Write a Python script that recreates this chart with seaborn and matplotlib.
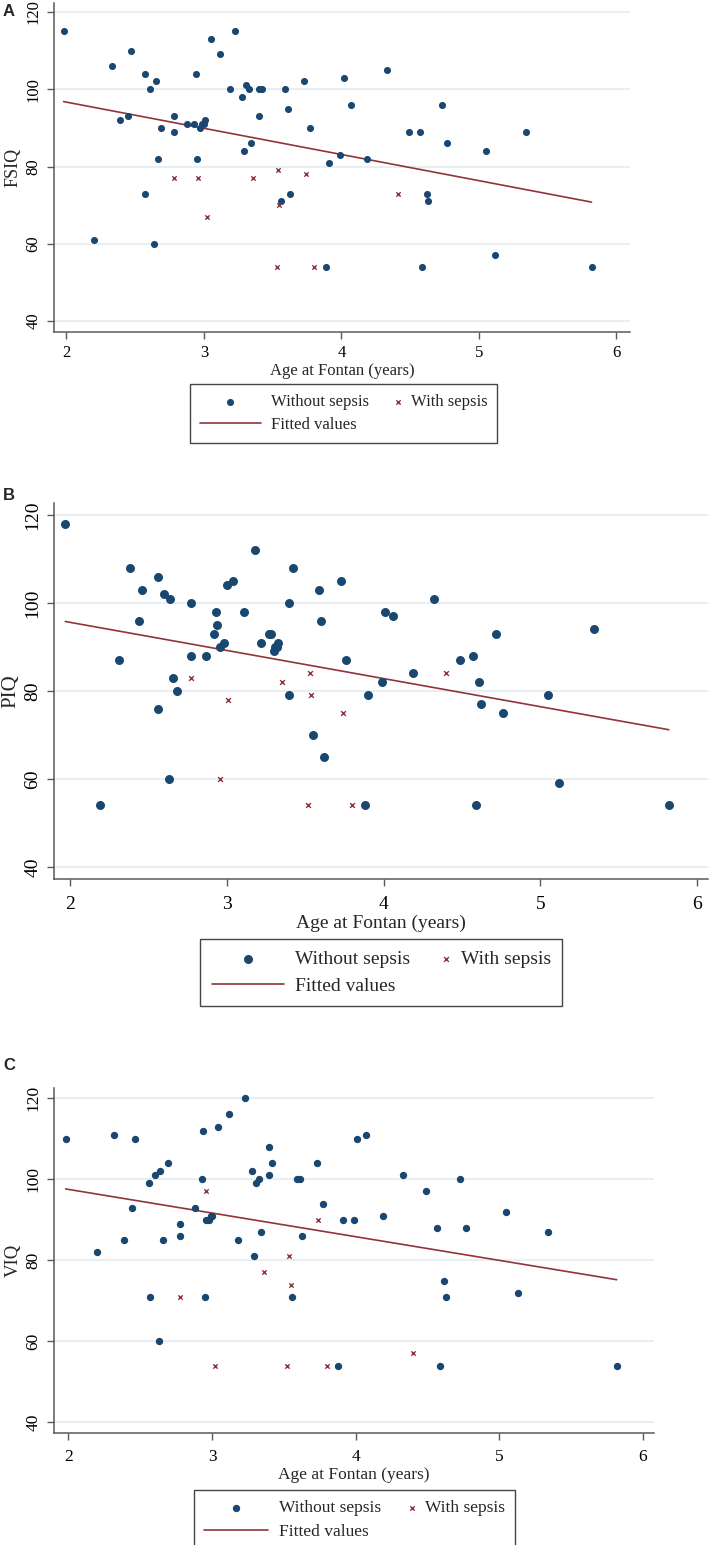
import matplotlib
matplotlib.use("Agg")
import matplotlib.pyplot as plt
from matplotlib.legend_handler import HandlerPathCollection
import seaborn as sns

# ---- Panel A: FSIQ ----
fsiq_age_no = [1.98, 2.20, 2.33, 2.47, 2.39, 2.45, 2.57, 2.61, 2.65, 2.57,
               2.64, 2.67, 2.69, 2.78, 2.78, 2.88, 2.93, 2.94, 2.95, 2.97,
               2.99, 3.00, 3.01, 3.05, 3.12, 3.19, 3.23, 3.28, 3.29, 3.31,
               3.33, 3.34, 3.40, 3.42, 3.40, 3.56, 3.59, 3.61, 3.63, 3.73,
               3.77, 3.89, 3.91, 3.99, 4.02, 4.07, 4.33, 4.19, 4.49, 4.57,
               4.73, 4.77, 5.05, 5.34, 4.62, 4.63, 4.59, 5.12, 5.82]
fsiq_no = [115, 61, 106, 110, 92, 93, 104, 100, 102, 73,
           60, 82, 90, 93, 89, 91, 91, 104, 82, 90,
           91, 91, 92, 113, 109, 100, 115, 98, 84, 101,
           100, 86, 100, 100, 93, 71, 100, 95, 73, 102,
           90, 54, 81, 83, 103, 96, 105, 82, 89, 89,
           96, 86, 84, 89, 73, 71, 54, 57, 54]
fsiq_age_sep = [2.78, 2.96, 3.02, 3.36, 3.54, 3.74, 3.55, 3.53, 3.80, 4.41]
fsiq_sep = [77, 77, 67, 77, 79, 78, 70, 54, 54, 73]
fsiq_fit_age = [1.98, 5.82]
fsiq_fit = [96.8, 70.8]

# ---- Panel B: PIQ ----
piq_age_no = [1.97, 2.19, 2.31, 2.38, 2.44, 2.46, 2.56, 2.56, 2.60, 2.63,
              2.64, 2.66, 2.68, 2.77, 2.77, 2.87, 2.92, 2.93, 2.94, 2.96,
              2.98, 3.00, 3.04, 3.11, 3.18, 3.22, 3.27, 3.28, 3.30, 3.31,
              3.32, 3.33, 3.40, 3.40, 3.42, 3.55, 3.59, 3.60, 3.62, 3.73,
              3.76, 3.88, 3.90, 3.99, 4.01, 4.06, 4.19, 4.32, 4.49, 4.57,
              4.59, 4.61, 4.62, 4.72, 4.76, 5.05, 5.12, 5.34, 5.82]
piq_no = [118, 54, 87, 108, 96, 103, 106, 76, 102, 60,
          101, 83, 80, 100, 88, 88, 93, 98, 95, 90,
          91, 104, 105, 98, 112, 91, 93, 93, 89, 90,
          90, 91, 100, 79, 108, 70, 103, 96, 65, 105,
          87, 54, 79, 82, 98, 97, 84, 101, 87, 88,
          54, 82, 77, 93, 75, 79, 59, 94, 54]
piq_age_sep = [2.77, 2.96, 3.01, 3.35, 3.53, 3.54, 3.52, 3.74, 3.80, 4.40]
piq_sep = [83, 60, 78, 82, 84, 79, 54, 75, 54, 84]
piq_fit_age = [1.97, 5.82]
piq_fit = [95.8, 71.2]

# ---- Panel C: VIQ ----
viq_age_no = [1.98, 2.20, 2.32, 2.39, 2.44, 2.46, 2.56, 2.57, 2.60, 2.64,
              2.66, 2.69, 2.78, 2.78, 2.88, 2.93, 2.94, 2.95, 2.96, 2.98,
              2.99, 3.00, 3.04, 3.12, 3.18, 3.23, 3.28, 3.29, 3.31, 3.33,
              3.34, 3.40, 3.40, 3.42, 3.56, 3.59, 3.61, 3.63, 3.73, 3.77,
              3.91, 3.99, 4.01, 4.07, 4.19, 4.33, 4.49, 4.57, 4.62, 4.63,
              4.73, 4.77, 5.05, 5.13, 5.34, 2.63, 3.88, 4.59, 5.82]
viq_no = [110, 82, 111, 85, 93, 110, 99, 71, 101, 102,
          85, 104, 89, 86, 93, 100, 112, 71, 90, 90,
          91, 91, 113, 116, 85, 120, 102, 81, 99, 100,
          87, 108, 101, 104, 71, 100, 100, 86, 104, 94,
          90, 90, 110, 111, 91, 101, 97, 88, 75, 71,
          100, 88, 92, 72, 87, 60, 54, 54, 54]
viq_age_sep = [2.96, 2.78, 3.36, 3.54, 3.55, 3.74, 3.02, 3.52, 3.80, 4.40]
viq_sep = [97, 71, 77, 81, 74, 90, 54, 54, 54, 57]
viq_fit_age = [1.98, 5.82]
viq_fit = [97.6, 75.2]

y_ticks = [40, 60, 80, 100, 120]
x_ticks = [2, 3, 4, 5, 6]

NAVY = "#1a476f"
MAROON = "#90353b"
GRID = "#e6eef1"
AXIS = "#5a5a5a"

sns.set_theme(style="white")
plt.rcParams['font.family'] = ['Liberation Serif', 'DejaVu Serif']

W, H = 709, 1545
fig = plt.figure(figsize=(W / 100, H / 100), dpi=100)


def px_rect(left, top, right, bottom):
    return [left / W, 1 - bottom / H, (right - left) / W, (bottom - top) / H]


def draw_panel(rect, letter, letter_top, age_no, iq_no, age_sep, iq_sep,
               fit_age, fit_iq, ylabel, xlim, ylim, fs, dot_s, x_s,
               leg_anchor, leg_space, col_space, tick_pad):
    ax = fig.add_axes(rect)
    sns.scatterplot(x=age_no, y=iq_no, ax=ax, color=NAVY, s=dot_s,
                    linewidth=0, label="Without sepsis", zorder=3)
    sns.scatterplot(x=age_sep, y=iq_sep, ax=ax, color=MAROON, marker="x",
                    s=x_s, linewidth=1.0, label="With sepsis", zorder=3)
    sns.lineplot(x=fit_age, y=fit_iq, ax=ax, color=MAROON, linewidth=1.2,
                 label="Fitted values", zorder=2)

    ax.set_xlim(*xlim)
    ax.set_ylim(*ylim)
    ax.set_xticks(x_ticks)
    ax.set_yticks(y_ticks)
    ax.yaxis.grid(True, color=GRID, linewidth=1.3)
    ax.xaxis.grid(False)
    ax.set_axisbelow(True)

    for side in ["top", "right"]:
        ax.spines[side].set_visible(False)
    for side in ["left", "bottom"]:
        ax.spines[side].set_color(AXIS)
        ax.spines[side].set_linewidth(1.1)

    ax.tick_params(axis="both", bottom=True, left=True, direction="out",
                   length=5, width=1, color=AXIS, labelsize=fs,
                   labelcolor="black")
    ax.tick_params(axis="x", pad=tick_pad)
    ax.tick_params(axis="y", labelrotation=90, pad=4)
    for lab in ax.get_yticklabels():
        lab.set_va("center")

    ax.set_xlabel("Age at Fontan (years)", fontsize=fs, labelpad=1)
    ax.set_ylabel(ylabel, fontsize=fs + 1, labelpad=3)

    handles, labels = ax.get_legend_handles_labels()
    ax.get_legend().remove()
    order = [0, 2, 1]
    # the cross key sits close to its text, as in the Stata legend
    leg = fig.legend([handles[i] for i in order], [labels[i] for i in order],
                     ncol=2, loc="upper center", bbox_to_anchor=leg_anchor,
                     borderaxespad=0, fontsize=fs, frameon=True,
                     fancybox=False, edgecolor="#444444", framealpha=1,
                     handlelength=3.7, handletextpad=0.6,
                     columnspacing=col_space, labelspacing=leg_space,
                     borderpad=0.58,
                     handler_map={handles[1]: HandlerPathCollection(xpad=3.4)})
    leg.get_frame().set_linewidth(1.0)

    fig.text(3 / W, 1 - letter_top / H, letter, family="Liberation Sans",
             fontweight="bold", fontsize=12, ha="left", va="top")
    return ax


draw_panel(px_rect(54, 3, 630, 332), "A", 4,
           fsiq_age_no, fsiq_no, fsiq_age_sep, fsiq_sep,
           fsiq_fit_age, fsiq_fit, "FSIQ", (1.91, 6.10), (37.2, 122.3),
           12, 26, 10, (343.6 / W, 1 - 384.3 / H), 0.44, -1.8, 4.5)

draw_panel(px_rect(54, 503, 708, 879), "B", 488,
           piq_age_no, piq_no, piq_age_sep, piq_sep,
           piq_fit_age, piq_fit, "PIQ", (1.898, 6.07), (37.27, 122.73),
           14, 42, 12, (381.3 / W, 1 - 939.3 / H), 0.45, -1.7, 7.5)

draw_panel(px_rect(54, 1088, 654, 1432.5), "C", 1058,
           viq_age_no, viq_no, viq_age_sep, viq_sep,
           viq_fit_age, viq_fit, "VIQ", (1.899, 6.08), (37.5, 122.5),
           12.5, 28, 10, (354.5 / W, 1 - 1490 / H), 0.45, -1.75, 7)

fig.savefig("out.png", dpi=100)
